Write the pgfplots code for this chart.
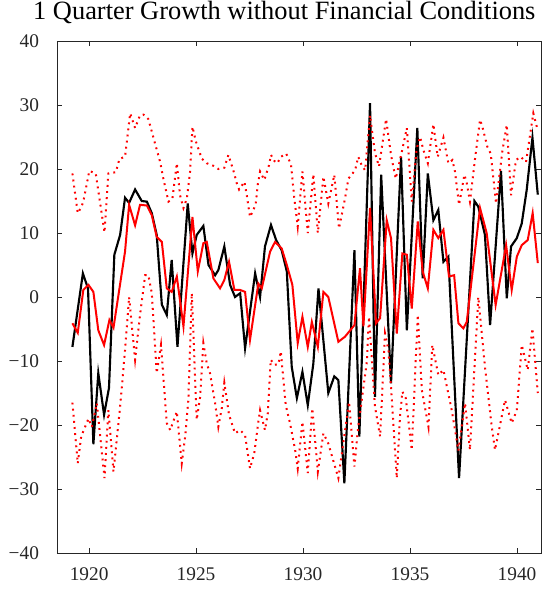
\documentclass[border=0pt]{standalone}
\usepackage{pgfplots}
\pgfplotsset{compat=1.18}
\usepackage{fontspec}
\setmainfont{Liberation Serif}
\definecolor{axgray}{rgb}{0.15,0.15,0.15}
\begin{document}
\begin{tikzpicture}
\path[use as bounding box] (-42.75pt,-29.25pt) rectangle (369pt,414.75pt);
\begin{axis}[
  at={(0pt,0pt)}, anchor=south west,
  scale only axis, width=363pt, height=384pt,
  xmin=1918.5, xmax=1941.12, ymin=-40, ymax=40,
  xtick={1920,1925,1930,1935,1940},
  ytick={-40,-30,-20,-10,0,10,20,30,40},
  yticklabels={−40,−30,−20,−10,0,10,20,30,40},
  tick align=inside, major tick length=4pt,
  axis line style={axgray, line width=0.6pt},
  every tick/.style={axgray, line width=0.6pt},
  tick label style={font=\fontsize{14.5}{16}\selectfont, text=axgray},
  xticklabel style={yshift=-7.5pt},
  yticklabel style={xshift=-10pt},
  /pgf/number format/assume math mode=true,
  /pgf/number format/1000 sep={},
  title={1 Quarter Growth without Financial Conditions},
  title style={font=\fontsize{19.8}{24}\selectfont, at={(0.5,1)}, anchor=base, yshift=10pt, xshift=-11pt, inner sep=0pt},
]
% actual growth (black)
\addplot[black, line width=1.6pt] coordinates {
(1919.22,-7.8) (1919.71,3.7) (1919.95,1.3) (1920.20,-23.0) (1920.43,-11.9) (1920.70,-18.4) (1920.93,-14.2)
(1921.18,6.6) (1921.45,9.7) (1921.68,15.5) (1921.87,14.7) (1922.15,16.8) (1922.46,15.0) (1922.70,14.9)
(1922.93,13.1) (1923.16,9.7) (1923.40,-1.2) (1923.63,-2.8) (1923.86,5.8) (1924.13,-7.8) (1924.61,14.6)
(1924.83,6.8) (1925.03,9.7) (1925.34,11.1) (1925.58,5.0) (1925.89,3.4) (1926.04,4.2) (1926.32,7.9)
(1926.59,1.9) (1926.82,0.0) (1927.06,0.6) (1927.29,-8.0) (1927.76,3.7) (1927.99,0.0) (1928.22,7.9)
(1928.50,11.25) (1928.74,8.9) (1929.00,7.3) (1929.24,4.0) (1929.47,-10.9) (1929.71,-15.8) (1929.97,-11.7)
(1930.22,-16.9) (1930.48,-10.4) (1930.72,1.35) (1931.18,-15.0) (1931.46,-12.4) (1931.65,-13.0) (1931.93,-29.1)
(1932.40,7.3) (1932.63,-21.8) (1933.13,30.3) (1933.36,-15.6) (1933.65,19.1) (1934.11,-13.5) (1934.58,21.9)
(1934.85,-5.2) (1935.34,26.4) (1935.59,2.9) (1935.83,19.3) (1936.09,12.0) (1936.32,13.6) (1936.56,5.5)
(1936.79,6.3) (1937.29,-28.3) (1938.01,15.0) (1938.19,14.1) (1938.50,9.7) (1938.74,-4.4) (1939.25,19.7)
(1939.52,-0.2) (1939.72,7.9) (1939.99,9.2) (1940.22,11.5) (1940.45,16.7) (1940.72,24.9) (1940.97,16.0)
};
% median (red)
\addplot[red, line width=1.5pt] coordinates {
(1919.22,-4.1) (1919.47,-5.6) (1919.73,1.1) (1919.97,1.9) (1920.20,0.8) (1920.43,-5.2) (1920.70,-7.5)
(1920.95,-3.6) (1921.14,-4.8) (1921.68,7.1) (1921.87,14.4) (1922.15,11.2) (1922.38,14.4) (1922.70,14.3)
(1922.93,12.8) (1923.16,9.4) (1923.40,8.6) (1923.63,1.35) (1923.86,0.8) (1924.10,3.2) (1924.41,-4.6)
(1924.83,12.5) (1925.08,4.0) (1925.34,8.4) (1925.50,8.6) (1925.81,2.9) (1926.12,1.35) (1926.32,2.65)
(1926.54,5.5) (1926.79,1.1) (1927.06,1.1) (1927.29,0.8) (1927.52,-6.7) (1927.91,2.1) (1928.07,1.35)
(1928.46,7.1) (1928.69,8.6) (1929.00,7.6) (1929.24,5.0) (1929.50,1.9) (1929.75,-7.2) (1929.97,-3.1)
(1930.22,-7.8) (1930.41,-3.9) (1930.69,-7.8) (1930.95,0.8) (1931.18,0.0) (1931.65,-7.0) (1931.96,-6.2)
(1932.40,-4.4) (1932.66,4.5) (1932.82,-4.6) (1933.13,13.9) (1933.41,-4.1) (1933.60,-3.3) (1933.91,12.0)
(1934.11,9.2) (1934.38,-5.7) (1934.64,6.8) (1934.85,6.6) (1935.08,-1.8) (1935.36,11.8) (1935.59,4.0)
(1935.83,1.35) (1936.09,10.5) (1936.32,9.2) (1936.56,10.5) (1936.82,3.2) (1937.06,3.4) (1937.26,-4.1)
(1937.49,-4.9) (1937.65,-3.9) (1938.27,13.9) (1938.58,10.0) (1939.00,-1.25) (1939.49,8.1) (1939.75,1.1)
(1939.99,6.3) (1940.22,8.1) (1940.50,8.9) (1940.73,13.1) (1940.97,5.3)
};
% upper band (red dotted)
\addplot[red, line width=1.5pt, dash pattern=on 1.4pt off 3.2pt] coordinates {
(1919.22,19.3) (1919.47,13.1) (1919.63,14.0) (1919.73,14.9) (1920.01,19.7) (1920.31,19.3) (1920.72,10.1)
(1920.90,19.3) (1921.25,19.5) (1921.42,21.6) (1921.68,21.9) (1921.92,28.7) (1922.15,26.4) (1922.38,28.4)
(1922.54,28.5) (1922.77,27.8) (1923.08,24.0) (1923.32,21.1) (1923.47,18.5) (1923.71,14.9) (1923.89,15.3)
(1924.10,20.9) (1924.25,15.9) (1924.41,13.9) (1924.57,15.4) (1924.72,19.6) (1924.83,26.6) (1924.99,24.3)
(1925.27,21.6) (1925.50,20.9) (1925.81,20.5) (1926.04,20.0) (1926.32,20.2) (1926.51,22.2) (1926.74,19.8)
(1926.90,17.8) (1927.01,16.8) (1927.26,18.0) (1927.37,15.9) (1927.52,12.5) (1927.68,13.6) (1927.79,14.6)
(1927.88,17.5) (1927.99,19.6) (1928.19,18.3) (1928.41,20.6) (1928.50,22.2) (1928.66,21.25) (1928.80,20.9)
(1928.96,21.9) (1929.21,22.4) (1929.31,21.7) (1929.44,20.6) (1929.59,15.4) (1929.75,11.0) (1929.97,19.6)
(1930.22,10.0) (1930.48,19.2) (1930.69,10.0) (1930.95,18.8) (1931.18,14.6) (1931.46,19.1) (1931.68,10.7)
(1931.96,15.4) (1932.12,18.5) (1932.43,19.8) (1932.58,21.9) (1932.74,20.6) (1932.90,19.8) (1933.13,28.4)
(1933.36,22.5) (1933.55,20.4) (1933.88,27.8) (1934.11,22.2) (1934.33,18.5) (1934.61,22.6) (1934.85,26.4)
(1935.08,14.9) (1935.31,23.2) (1935.47,25.0) (1935.62,23.0) (1935.83,20.9) (1936.09,27.0) (1936.29,21.9)
(1936.56,24.9) (1936.79,20.9) (1936.98,21.4) (1937.10,19.6) (1937.29,14.4) (1937.54,19.1) (1937.65,17.8)
(1937.80,14.9) (1938.04,21.7) (1938.27,27.7) (1938.38,26.6) (1938.61,23.5) (1938.77,22.4) (1939.02,14.6)
(1939.31,22.7) (1939.52,26.9) (1939.72,15.9) (1939.95,21.4) (1940.17,21.9) (1940.42,21.1) (1940.76,28.7)
(1940.97,26.0)
};
% lower band (red dotted)
\addplot[red, line width=1.5pt, dash pattern=on 1.4pt off 3.2pt] coordinates {
(1919.22,-16.5) (1919.47,-26.0) (1919.63,-21.8) (1919.97,-19.0) (1920.13,-20.3) (1920.36,-16.6) (1920.72,-28.3)
(1920.90,-17.7) (1921.14,-27.3) (1921.45,-17.1) (1921.68,-8.3) (1921.87,0.0) (1922.15,-9.8) (1922.38,-2.8)
(1922.62,3.4) (1922.77,3.4) (1922.93,0.6) (1923.16,-11.9) (1923.36,-7.5) (1923.63,-19.7) (1923.79,-20.8)
(1924.10,-17.9) (1924.33,-26.0) (1924.49,-21.8) (1924.64,-16.1) (1924.80,0.6) (1925.03,-19.2) (1925.19,-15.6)
(1925.34,-7.2) (1925.50,-10.4) (1925.65,-11.9) (1925.89,-16.6) (1926.04,-20.3) (1926.20,-17.4) (1926.32,-13.4)
(1926.54,-18.4) (1926.82,-21.3) (1927.06,-20.8) (1927.29,-21.6) (1927.52,-26.8) (1927.72,-24.4) (1927.91,-19.5)
(1927.99,-17.7) (1928.22,-20.8) (1928.35,-18.2) (1928.49,-9.8) (1928.66,-10.6) (1928.85,-10.5) (1928.96,-8.5)
(1929.19,-16.9) (1929.39,-19.7) (1929.63,-23.9) (1929.75,-26.8) (1929.97,-19.5) (1930.22,-27.5) (1930.43,-17.4)
(1930.69,-27.3) (1930.95,-21.3) (1931.18,-22.9) (1931.65,-28.3) (1932.15,-16.4) (1932.40,-26.5) (1932.56,-20.8)
(1932.98,-10.1) (1933.08,-3.1) (1933.36,-17.1) (1933.60,-21.8) (1933.83,-5.7) (1933.99,-8.3) (1934.11,-14.0)
(1934.38,-28.3) (1934.53,-18.7) (1934.64,-14.8) (1934.80,-15.8) (1935.08,-23.9) (1935.36,-2.8) (1935.55,-14.5)
(1935.86,-20.3) (1936.04,-7.5) (1936.32,-12.2) (1936.56,-11.4) (1936.95,-17.7) (1937.26,-24.0) (1937.57,-16.6)
(1937.80,-23.9) (1938.19,0.0) (1938.50,-10.9) (1938.82,-20.3) (1938.97,-23.9) (1939.44,-16.1) (1939.75,-19.7)
(1939.99,-17.7) (1940.22,-7.5) (1940.50,-11.4) (1940.72,-4.9) (1940.97,-15.0)
};
\end{axis}
\end{tikzpicture}
\end{document}
